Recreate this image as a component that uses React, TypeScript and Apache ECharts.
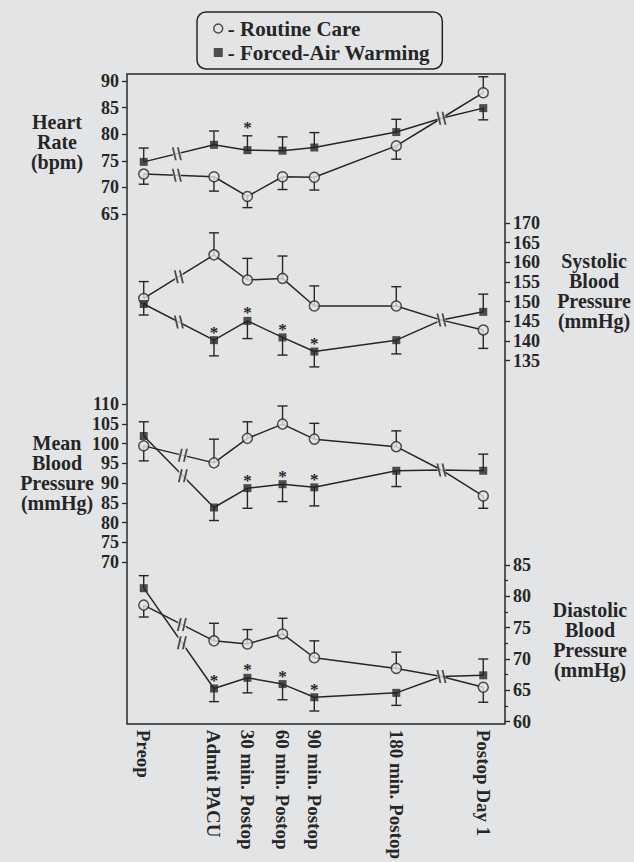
import React, { useEffect, useRef } from 'react';
import * as echarts from 'echarts';

// ---------- data ----------
const timeLabels = ['Preop', 'Admit PACU', '30 min. Postop', '60 min. Postop', '90 min. Postop', '180 min. Postop', 'Postop Day 1'];
const timePos = [0, 2.1, 3.1, 4.15, 5.1, 7.55, 10.15];

const seriesNames = ['Routine Care', 'Forced-Air Warming'];

// Heart rate (bpm)
const hrRoutine = [72.5, 72.0, 68.3, 72.0, 71.9, 77.8, 87.8];
const hrRoutineErr = [-1.9, -2.7, -2.1, -2.4, -2.4, -2.5, 3.0];
const hrWarming = [74.8, 78.0, 77.0, 76.9, 77.5, 80.4, 84.9];
const hrWarmingErr = [2.6, 2.6, 2.7, 2.6, 2.8, 2.4, -2.2];
const hrSignificant = [0, 0, 1, 0, 0, 0, 0];

// Systolic blood pressure (mmHg)
const sbpRoutine = [150.8, 161.9, 155.5, 155.9, 148.9, 148.9, 142.8];
const sbpRoutineErr = [4.3, 5.6, 5.5, 5.7, 5.1, 4.9, -4.7];
const sbpWarming = [149.4, 140.2, 145.1, 140.9, 137.3, 140.2, 147.4];
const sbpWarmingErr = [-2.8, -4.0, -4.5, -4.5, -3.9, -3.5, 4.5];
const sbpSignificant = [0, 1, 1, 1, 1, 0, 0];

// Mean blood pressure (mmHg)
const mbpRoutine = [99.4, 95.1, 101.3, 104.9, 101.1, 99.2, 86.7];
const mbpRoutineErr = [-3.8, 6.0, 4.2, 4.6, 4.0, 4.0, -3.1];
const mbpWarming = [101.9, 83.8, 88.7, 89.7, 88.9, 93.1, 93.1];
const mbpWarmingErr = [3.6, -3.3, -5.1, -4.4, -4.7, -4.0, 4.2];
const mbpSignificant = [0, 0, 1, 1, 1, 0, 0];

// Diastolic blood pressure (mmHg)
const dbpRoutine = [78.6, 72.9, 72.4, 74.0, 70.2, 68.5, 65.5];
const dbpRoutineErr = [-1.9, 2.8, 2.3, 2.5, 2.7, 2.6, -2.4];
const dbpWarming = [81.3, 65.3, 67.0, 66.0, 63.9, 64.6, 67.4];
const dbpWarmingErr = [2.0, -2.1, -2.4, -2.5, -2.2, -2.0, 2.6];
const dbpSignificant = [0, 1, 1, 1, 1, 0, 0];

// axis ranges & names
const axisMin = [65, 135, 70, 60];
const axisMax = [90, 170, 110, 85];
const axisNames = ['Heart\nRate\n(bpm)', 'Systolic\nBlood\nPressure\n(mmHg)', 'Mean\nBlood\nPressure\n(mmHg)', 'Diastolic\nBlood\nPressure\n(mmHg)'];

// axis breaks (position on time axis, and where the lines meet at the second break)
const breakX1 = [0.99, 1.05, 1.17, 1.14];
const breakX2 = 8.9;
const breakY2 = [83.0, 145.3, 93.3, 67.2];

// ---------- style ----------
const BG = '#e3e4e6';
const INK = '#262626';
const FONT = '"Liberation Serif", "Times New Roman", serif';

const panels = [
  { r: hrRoutine, re: hrRoutineErr, w: hrWarming, we: hrWarmingErr, sig: hrSignificant },
  { r: sbpRoutine, re: sbpRoutineErr, w: sbpWarming, we: sbpWarmingErr, sig: sbpSignificant },
  { r: mbpRoutine, re: mbpRoutineErr, w: mbpWarming, we: mbpWarmingErr, sig: mbpSignificant },
  { r: dbpRoutine, re: dbpRoutineErr, w: dbpWarming, we: dbpWarmingErr, sig: dbpSignificant },
];

const gridLayout = [
  { top: 81, height: 133 },
  { top: 223, height: 137.6 },
  { top: 404, height: 158 },
  { top: 565, height: 159 },
];
const axisSide = ['left', 'right', 'left', 'right'];
const firstBreakBack = [true, true, false, false];
const titlePos = [
  [57, 142],
  [594, 291],
  [57, 473],
  [590, 640],
];

const SLASH_FWD = 'path://M3,0 L4.8,0 L1.8,12 L0,12 Z M8,0 L9.8,0 L6.8,12 L5,12 Z';
const SLASH_BACK = 'path://M0,0 L1.8,0 L4.8,12 L3,12 Z M5,0 L6.8,0 L9.8,12 L8,12 Z';

function errorRender(params: any, api: any) {
  const x = api.value(0);
  const y = api.value(1);
  const e = api.value(2);
  const s = api.value(3);
  const p = api.coord([x, y]);
  const q = api.coord([x, y + e]);
  const children: any[] = [
    { type: 'line', shape: { x1: p[0], y1: p[1], x2: q[0], y2: q[1] }, style: { stroke: INK, lineWidth: 1.4 } },
    { type: 'line', shape: { x1: q[0] - 5, y1: q[1], x2: q[0] + 5, y2: q[1] }, style: { stroke: INK, lineWidth: 1.4 } },
  ];
  if (s) {
    children.push({
      type: 'text',
      x: p[0],
      y: Math.min(p[1], q[1]) - 8,
      style: { text: '*', align: 'center', verticalAlign: 'middle', font: `bold 17px ${FONT}`, fill: INK },
    });
  }
  return { type: 'group', children };
}

function interpAt(vals: number[], xb: number) {
  const x0 = timePos[0];
  const x1 = timePos[1];
  return vals[0] + ((vals[1] - vals[0]) * (xb - x0)) / (x1 - x0);
}

function buildOption() {
  const grid = gridLayout.map((g) => ({ left: 127, width: 378, top: g.top, height: g.height }));
  const xAxis = gridLayout.map((_, i) => ({
    type: 'value',
    gridIndex: i,
    min: -0.5,
    max: 10.8,
    show: i === 3,
    axisLine: { show: false, onZero: false },
    axisTick: { show: false },
    splitLine: { show: false },
    axisLabel: {
      show: i === 3,
      customValues: timePos,
      rotate: -90,
      margin: 8,
      color: INK,
      fontFamily: FONT,
      fontWeight: 'bold',
      fontSize: 19,
      formatter: (v: number) => {
        let best = 0;
        for (let k = 1; k < timePos.length; k++) if (Math.abs(timePos[k] - v) < Math.abs(timePos[best] - v)) best = k;
        return Math.abs(timePos[best] - v) < 0.01 ? timeLabels[best] : '';
      },
    },
  }));
  const yAxis = gridLayout.map((_, i) => ({
    type: 'value',
    gridIndex: i,
    position: axisSide[i],
    min: axisMin[i],
    max: axisMax[i],
    interval: 5,
    axisLine: { show: false, onZero: false },
    axisTick: { show: true, length: 5, lineStyle: { color: INK, width: 1.3 } },
    minorTick: { show: i === 3, splitNumber: 2, length: 3, lineStyle: { color: INK, width: 1.2 } },
    splitLine: { show: false },
    axisLabel: { margin: 8, color: INK, fontFamily: FONT, fontWeight: 'bold', fontSize: 18 },
  }));

  const series: any[] = [];
  panels.forEach((pn, i) => {
    const groups = [
      { vals: pn.r, errs: pn.re, sig: pn.r.map(() => 0), name: seriesNames[0] },
      { vals: pn.w, errs: pn.we, sig: pn.sig, name: seriesNames[1] },
    ];
    groups.forEach((g, gi) => {
      const pts = timePos.map((x, k) => [x, g.vals[k]]);
      const lineData = [...pts.slice(0, 6), [breakX2, breakY2[i]], pts[6]];
      series.push({
        type: 'line',
        name: 'line' + i + gi,
        xAxisIndex: i,
        yAxisIndex: i,
        data: lineData,
        showSymbol: false,
        lineStyle: { color: INK, width: 1.5 },
        z: 2,
        silent: true,
      });
      series.push({
        type: 'custom',
        name: 'err' + i + gi,
        xAxisIndex: i,
        yAxisIndex: i,
        renderItem: errorRender,
        data: timePos.map((x, k) => [x, g.vals[k], g.errs[k], g.sig[k]]),
        encode: { x: 0, y: 1 },
        clip: false,
        z: 3,
        silent: true,
      });
    });
    // break covers & slashes
    const b1 = [
      [breakX1[i], interpAt(pn.r, breakX1[i])],
      [breakX1[i], interpAt(pn.w, breakX1[i])],
    ];
    const b2 = [[breakX2, breakY2[i]]];
    series.push({
      type: 'scatter',
      name: 'cover' + i,
      xAxisIndex: i,
      yAxisIndex: i,
      data: [...b1, ...b2],
      symbol: 'rect',
      symbolSize: [8, 12],
      itemStyle: { color: BG },
      z: 4,
      silent: true,
    });
    series.push({
      type: 'scatter',
      name: 'slash' + i,
      xAxisIndex: i,
      yAxisIndex: i,
      data: [
        ...b1.map((v) => ({ value: v, symbol: firstBreakBack[i] ? SLASH_BACK : SLASH_FWD })),
        ...b2.map((v) => ({ value: v, symbol: SLASH_BACK })),
      ],
      symbolSize: [10, 13],
      itemStyle: { color: INK },
      z: 5,
      silent: true,
    });
    // markers
    series.push({
      type: 'scatter',
      name: seriesNames[0],
      xAxisIndex: i,
      yAxisIndex: i,
      data: timePos.map((x, k) => [x, pn.r[k]]),
      symbol: 'circle',
      symbolSize: 10,
      itemStyle: { color: BG, borderColor: INK, borderWidth: 1.5 },
      z: 6,
    });
    series.push({
      type: 'scatter',
      name: seriesNames[1],
      xAxisIndex: i,
      yAxisIndex: i,
      data: timePos.map((x, k) => [x, pn.w[k]]),
      symbol: 'rect',
      symbolSize: 8,
      itemStyle: { color: INK },
      z: 6,
    });
  });

  const graphic: any[] = [
    {
      type: 'rect',
      shape: { x: 127, y: 74, width: 378, height: 650 },
      style: { fill: 'none', stroke: INK, lineWidth: 1.5 },
      z: 1,
    },
    ...axisNames.map((t, i) => ({
      type: 'text',
      x: titlePos[i][0],
      y: titlePos[i][1],
      style: {
        text: t,
        align: 'center',
        verticalAlign: 'middle',
        font: `bold 20px ${FONT}`,
        lineHeight: 20,
        fill: INK,
      },
    })),
  ];

  return {
    animation: false,
    backgroundColor: BG,
    grid,
    xAxis,
    yAxis,
    legend: {
      left: 197,
      top: 12,
      orient: 'vertical',
      selectedMode: false,
      padding: [6, 12, 6, 16],
      itemGap: 3,
      itemWidth: 9,
      itemHeight: 9,
      itemTextGap: 5,
      borderColor: INK,
      borderWidth: 1.5,
      borderRadius: 9,
      formatter: (n: string) => '- ' + n,
      textStyle: { color: INK, fontFamily: FONT, fontWeight: 'bold', fontSize: 21, lineHeight: 20 },
      data: [
        { name: seriesNames[0], icon: 'circle', itemStyle: { color: BG, borderColor: INK, borderWidth: 1.5 } },
        { name: seriesNames[1], icon: 'rect', itemStyle: { color: INK } },
      ],
    },
    graphic,
    series,
  };
}

export default function App() {
  const ref = useRef<HTMLDivElement>(null);
  useEffect(() => {
    if (!ref.current) return;
    const chart = echarts.init(ref.current, undefined, { renderer: 'svg' });
    chart.setOption(buildOption() as any);
    return () => chart.dispose();
  }, []);
  return (
    <div
      ref={ref}
      style={{ position: 'fixed', left: 0, top: 0, width: 634, height: 862, background: BG }}
    />
  );
}
